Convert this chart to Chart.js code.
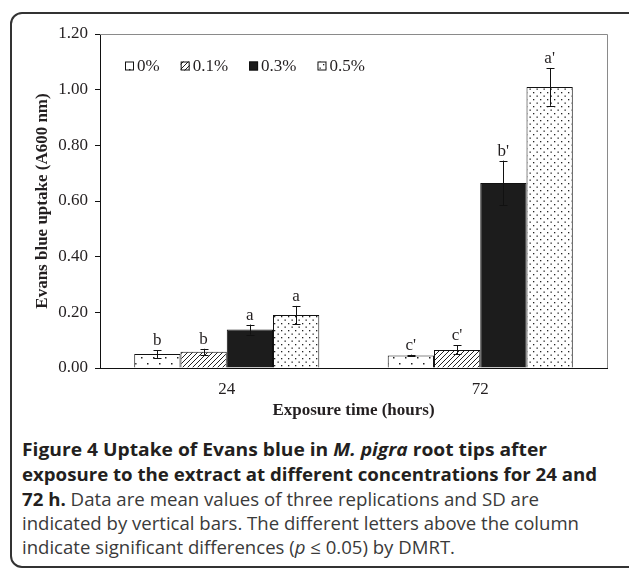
<!DOCTYPE html>
<html>
<head>
<meta charset="utf-8">
<script src="https://cdn.jsdelivr.net/npm/chart.js@4.4.0/dist/chart.umd.min.js"></script>
<style>
  html, body { margin:0; padding:0; background:#fff; overflow:hidden; width:629px; height:574px; }
  #frame { position:absolute; left:10px; top:12px; width:640px; height:556px; border:2px solid #333; border-radius:12px; box-sizing:border-box; }
  #c { position:absolute; left:0; top:0; }
  .cap { position:absolute; left:22px; white-space:nowrap; font-family:"Open Sans", sans-serif; font-size:18px; line-height:24px; color:#3a3a3a; transform-origin:0 50%; }
  .cap b { color:#231f20; font-weight:700; }
</style>
</head>
<body>
<div id="frame"></div>
<canvas id="c" width="629" height="430"></canvas>
<div class="cap" id="l1" style="top:437px"><b>Figure 4 Uptake of Evans blue in <i>M. pigra</i> root tips after</b></div>
<div class="cap" id="l2" style="top:462px"><b>exposure to the extract at different concentrations for 24 and</b></div>
<div class="cap" id="l3" style="top:487px"><b>72 h.</b> Data are mean values of three replications and SD are</div>
<div class="cap" id="l4" style="top:511px">indicated by vertical bars. The different letters above the column</div>
<div class="cap" id="l5" style="top:535px">indicate significant differences (<i>p</i> ≤ 0.05) by DMRT.</div>
<script>
// ---- data ----
const categories = ['24', '72'];
const seriesNames = ['0%', '0.1%', '0.3%', '0.5%'];
const values0  = [0.05, 0.045];
const values01 = [0.058, 0.065];
const values03 = [0.138, 0.665];
const values05 = [0.19, 1.01];
const sd0  = [0.014, 0.003];
const sd01 = [0.011, 0.016];
const sd03 = [0.018, 0.08];
const sd05 = [0.033, 0.068];
const letters0  = ['b', "c'"];
const letters01 = ['b', "c'"];
const letters03 = ['a', "b'"];
const letters05 = ['a', "a'"];
const yTicks = [0, 0.2, 0.4, 0.6, 0.8, 1.0, 1.2];

// ---- patterns ----
function makePattern(w, h, draw) {
  const cv = document.createElement('canvas');
  cv.width = w; cv.height = h;
  const g = cv.getContext('2d');
  g.fillStyle = '#fff'; g.fillRect(0, 0, w, h);
  draw(g);
  return document.getElementById('c').getContext('2d').createPattern(cv, 'repeat');
}
const patSparse = makePattern(12, 12, g => { g.fillStyle = '#222'; g.fillRect(3, 3, 1.5, 1.5); g.fillRect(9, 9, 1.5, 1.5); });
const patHatch = makePattern(5, 5, g => {
  g.strokeStyle = '#222'; g.lineWidth = 1;
  g.beginPath(); g.moveTo(-1, 6); g.lineTo(6, -1); g.moveTo(-1, 1); g.lineTo(1, -1); g.moveTo(4, 6); g.lineTo(6, 4); g.stroke();
});
const patDense = makePattern(7, 7, g => { g.fillStyle = '#222'; g.fillRect(1, 1, 1.3, 1.3); g.fillRect(4.5, 4.5, 1.3, 1.3); });
const fills = [patSparse, patHatch, '#1c1c1c', patDense];

const seriesValues = [values0, values01, values03, values05];
const seriesSD = [sd0, sd01, sd03, sd05];
const seriesLetters = [letters0, letters01, letters03, letters05];

const serif = '"Liberation Serif", "Times New Roman", serif';

const errorPlugin = {
  id: 'errs',
  afterDatasetsDraw(chart) {
    const ctx = chart.ctx, ys = chart.scales.y;
    ctx.save();
    chart.data.datasets.forEach((ds, di) => {
      const meta = chart.getDatasetMeta(di);
      meta.data.forEach((bar, i) => {
        const v = seriesValues[di][i], s = seriesSD[di][i];
        const x = Math.round(bar.x) + 0.5;
        const yt = ys.getPixelForValue(v + s), yb = ys.getPixelForValue(v - s);
        ctx.strokeStyle = '#111'; ctx.lineWidth = 1;
        ctx.beginPath();
        ctx.moveTo(x, yt); ctx.lineTo(x, yb);
        ctx.moveTo(x - 4, Math.round(yt) + 0.5); ctx.lineTo(x + 4, Math.round(yt) + 0.5);
        ctx.moveTo(x - 4, Math.round(yb) + 0.5); ctx.lineTo(x + 4, Math.round(yb) + 0.5);
        ctx.stroke();
        ctx.fillStyle = '#231f20';
        ctx.font = '17px ' + serif;
        ctx.textAlign = 'center'; ctx.textBaseline = 'alphabetic';
        ctx.fillText(seriesLetters[di][i], bar.x, yt - 5);
      });
    });
    // plot frame top/right
    const a = chart.chartArea;
    ctx.strokeStyle = '#8a8a8a'; ctx.lineWidth = 1;
    ctx.beginPath();
    ctx.moveTo(a.left, Math.round(a.top) + 0.5); ctx.lineTo(Math.round(a.right) + 0.5, Math.round(a.top) + 0.5);
    ctx.lineTo(Math.round(a.right) + 0.5, a.bottom);
    ctx.stroke();
    // legend
    ctx.font = '17px ' + serif;
    ctx.textAlign = 'left'; ctx.textBaseline = 'middle';
    let lx = a.left + 25;
    const ly = a.top + 32;
    seriesNames.forEach((name, di) => {
      ctx.fillStyle = fills[di];
      ctx.fillRect(lx, ly - 4.5, 9, 9);
      ctx.strokeStyle = '#111';
      ctx.strokeRect(lx + 0.5, ly - 4.5 + 0.5, 8, 8);
      ctx.fillStyle = '#231f20';
      ctx.fillText(name, lx + 12, ly + 1);
      lx += 12 + ctx.measureText(name).width + 21;
    });
    ctx.restore();
  }
};

new Chart(document.getElementById('c'), {
  type: 'bar',
  data: {
    labels: categories,
    datasets: seriesNames.map((n, di) => ({
      label: n,
      data: seriesValues[di],
      backgroundColor: fills[di],
      borderColor: '#111',
      borderWidth: 1,
      categoryPercentage: 0.73,
      barPercentage: 1.0
    }))
  },
  options: {
    responsive: false,
    animation: false,
    devicePixelRatio: 1,
    layout: { padding: { left: 0, right: 22, top: 34, bottom: 0 } },
    plugins: { legend: { display: false }, tooltip: { enabled: false } },
    scales: {
      x: {
        grid: { display: true, drawOnChartArea: false, drawTicks: false },
        border: { display: true, color: '#111', width: 1 },
        ticks: { color: '#231f20', font: { family: serif, size: 17 }, padding: 11 },
        title: { display: true, text: 'Exposure time (hours)', color: '#231f20', font: { family: serif, size: 17, weight: 'bold' }, padding: { top: 0, bottom: 9 } },
        afterFit: s => { s.height = 62; }
      },
      y: {
        min: 0, max: 1.2,
        afterBuildTicks: s => { s.ticks = yTicks.map(v => ({ value: v })); },
        grid: { display: true, drawOnChartArea: false, drawTicks: true, tickLength: 5, color: '#111' },
        border: { display: true, color: '#111', width: 1 },
        ticks: { color: '#231f20', font: { family: serif, size: 17 }, padding: 7, callback: v => Number(v).toFixed(2) },
        title: { display: true, text: 'Evans blue uptake (A600 nm)', color: '#231f20', font: { family: serif, size: 17, weight: 'bold' }, padding: { top: 32, bottom: 0 } },
        afterFit: s => { s.width = 100; }
      }
    }
  },
  plugins: [errorPlugin]
});

// fit caption lines to reference widths
const capTargets = { l1: 525, l2: 575, l3: 517, l4: 557, l5: 433 };
Object.keys(capTargets).forEach(id => {
  const el = document.getElementById(id);
  const w = el.getBoundingClientRect().width;
  el.style.transform = 'scaleX(' + (capTargets[id] / w) + ')';
});
</script>
</body>
</html>
